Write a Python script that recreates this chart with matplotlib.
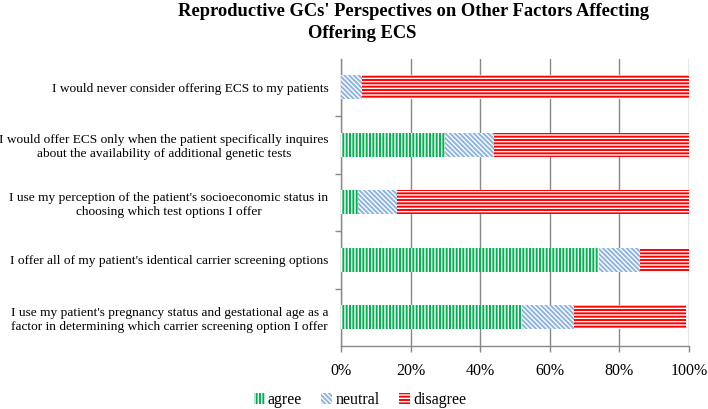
import matplotlib
matplotlib.use("Agg")
import matplotlib.pyplot as plt
from matplotlib.patches import Patch

plt.rcParams['font.family'] = ['Liberation Serif', 'DejaVu Serif']
plt.rcParams['hatch.linewidth'] = 1.0

categories = [
    "I would never consider offering ECS to my patients",
    "I would offer ECS only when the patient specifically inquires\nabout the availability of additional genetic tests",
    "I use my perception of the patient's socioeconomic status in\nchoosing which test options I offer",
    "I offer all of my patient's identical carrier screening options",
    "I use my patient's pregnancy status and gestational age as a\nfactor in determining which carrier screening option I offer",
]
agree = [0, 30, 5, 74, 52]
neutral = [6, 14, 11, 12, 15]
disagree = [94, 56, 84, 14, 32]
series_names = ["agree", "neutral", "disagree"]
xtick_labels = ["0%", "20%", "40%", "60%", "80%", "100%"]

colors = ["#00B050", "#8DB4E2", "#FF0000"]
hatches = ["|||||", "\\" * 7, "-----"]

fig = plt.figure(figsize=(7.08, 4.09), dpi=100)
ax = fig.add_axes([341/708, 1-346/409, 348/708, (346-58.5)/409])

ypos = list(range(len(categories)))[::-1]
left = [0]*len(categories)
for vals, c, h in zip([agree, neutral, disagree], colors, hatches):
    ax.barh(ypos, vals, left=left, height=0.41, color=c, edgecolor="white",
            hatch=h, linewidth=0, zorder=3)
    left = [l+v for l, v in zip(left, vals)]

ax.set_xlim(0, 100)
ax.set_ylim(-0.5, len(categories)-0.5)
ax.set_xticks([0, 20, 40, 60, 80, 100])
ax.set_xticklabels(xtick_labels, fontsize=11.5)
ax.set_yticks(ypos)
ax.set_yticklabels(categories, fontsize=9.6, multialignment='center')
ax.set_yticks([y+0.5 for y in range(len(categories)-1)], minor=True)
ax.tick_params(axis='y', which='major', length=0, pad=9)
ax.tick_params(axis='y', which='minor', length=4, color='#888888', width=1)
ax.tick_params(axis='x', length=4, color='#888888', width=1, pad=8)
ax.grid(axis='x', color='#888888', linewidth=1, zorder=0)
for s in ['top', 'right']:
    ax.spines[s].set_visible(False)
for s in ['left', 'bottom']:
    ax.spines[s].set_color('#888888')
    ax.spines[s].set_linewidth(1)

fig.text(414/708, 1-11/409, "Reproductive GCs' Perspectives on Other Factors Affecting",
         ha='center', va='center', fontsize=13.3, fontweight='bold')
fig.text(362/708, 1-34/409, "Offering ECS",
         ha='center', va='center', fontsize=13.3, fontweight='bold')

handles = [Patch(facecolor=c, edgecolor='white', hatch=h, linewidth=0) for c, h in zip(colors, hatches)]
fig.legend(handles, series_names, loc='center', bbox_to_anchor=(360/708, 1-400/409),
           ncol=3, frameon=False, fontsize=11.5, handlelength=0.7, handleheight=0.7,
           handletextpad=0.2, columnspacing=1.2)

fig.savefig("out.png", dpi=100)
